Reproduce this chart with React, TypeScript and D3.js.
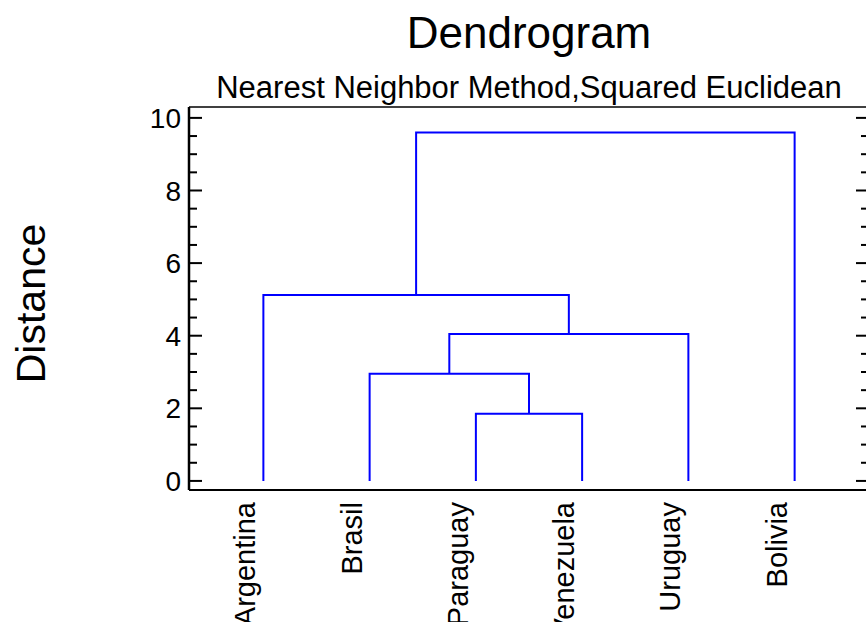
import React from "react";
import * as d3 from "d3";

const width = 866;
const height = 622;
const margin = { top: 107, right: -3, bottom: 132, left: 189 };

// leaves in the order they appear on the x axis
const leaves = ["Argentina", "Brasil", "Paraguay", "Venezuela", "Uruguay", "Bolivia"];

// linkage: node ids 0-5 are leaves, each merge creates node 6, 7, ...
const linkA = [2, 1, 7, 0, 9];
const linkB = [3, 6, 4, 8, 5];
const mergeHeights = [1.85, 2.95, 4.05, 5.12, 9.6];

const yTicks = [0, 2, 4, 6, 8, 10];

const font = "'Liberation Sans', Arial, Helvetica, sans-serif";

export default function App() {
  const x0 = margin.left;
  const x1 = width - margin.right;
  const yTop = margin.top;
  const yBottom = height - margin.bottom;

  const xScale = d3.scalePoint<string>().domain(leaves).range([x0, x1]).padding(0.7);
  const yScale = d3.scaleLinear().domain([-0.25, 10.3]).range([yBottom, yTop]);

  // node positions
  const nodeX: number[] = leaves.map((d) => xScale(d) as number);
  const nodeH: number[] = leaves.map(() => 0);
  const links: string[] = [];
  mergeHeights.forEach((h, i) => {
    const a = linkA[i];
    const b = linkB[i];
    const path = d3.path();
    path.moveTo(nodeX[a], yScale(nodeH[a]));
    path.lineTo(nodeX[a], yScale(h));
    path.lineTo(nodeX[b], yScale(h));
    path.lineTo(nodeX[b], yScale(nodeH[b]));
    links.push(path.toString());
    nodeX.push((nodeX[a] + nodeX[b]) / 2);
    nodeH.push(h);
  });

  const minorTicks = d3.range(0, 10.01, 0.5).filter((v) => !yTicks.includes(v));
  const cx = (x0 + x1) / 2;

  return (
    <svg
      width={width}
      height={height}
      style={{ position: "absolute", left: 0, top: 0, background: "#fff" }}
      fontFamily={font}
    >
      <text x={cx} y={48} textAnchor="middle" fontSize={44}>
        Dendrogram
      </text>
      <text x={cx} y={98} textAnchor="middle" fontSize={31}>
        Nearest Neighbor Method,Squared Euclidean
      </text>
      <text
        transform={`translate(45, ${(yTop + yBottom) / 2 + 5}) rotate(-90)`}
        textAnchor="middle"
        fontSize={41}
      >
        Distance
      </text>

      {/* frame */}
      <line x1={x0} x2={x1} y1={yTop} y2={yTop} stroke="#000" strokeWidth={1.5} />
      <line x1={x0} x2={x1} y1={yBottom} y2={yBottom} stroke="#000" strokeWidth={2} />
      <line x1={x0} x2={x0} y1={yTop} y2={yBottom} stroke="#000" strokeWidth={2.5} />
      <line x1={x1} x2={x1} y1={yTop} y2={yBottom} stroke="#000" strokeWidth={2} />

      {/* ticks */}
      {yTicks.map((t) => (
        <g key={t}>
          <line x1={x0} x2={x0 + 13} y1={yScale(t)} y2={yScale(t)} stroke="#000" strokeWidth={2} />
          <line x1={x1} x2={x1 - 13} y1={yScale(t)} y2={yScale(t)} stroke="#000" strokeWidth={2} />
          <text x={x0 - 8} y={yScale(t)} dy="0.36em" textAnchor="end" fontSize={28}>
            {t}
          </text>
        </g>
      ))}
      {minorTicks.map((t) => (
        <g key={t}>
          <line x1={x0} x2={x0 + 8} y1={yScale(t)} y2={yScale(t)} stroke="#000" strokeWidth={2} />
          <line x1={x1} x2={x1 - 8} y1={yScale(t)} y2={yScale(t)} stroke="#000" strokeWidth={2} />
        </g>
      ))}

      {/* dendrogram */}
      {links.map((d, i) => (
        <path key={i} d={d} fill="none" stroke="#0000ff" strokeWidth={2} />
      ))}

      {/* leaf labels */}
      {leaves.map((d) => (
        <text
          key={d}
          transform={`translate(${(xScale(d) as number) - 8}, ${yBottom + 12}) rotate(-90)`}
          textAnchor="end"
          fontSize={29}
        >
          {d}
        </text>
      ))}
    </svg>
  );
}
